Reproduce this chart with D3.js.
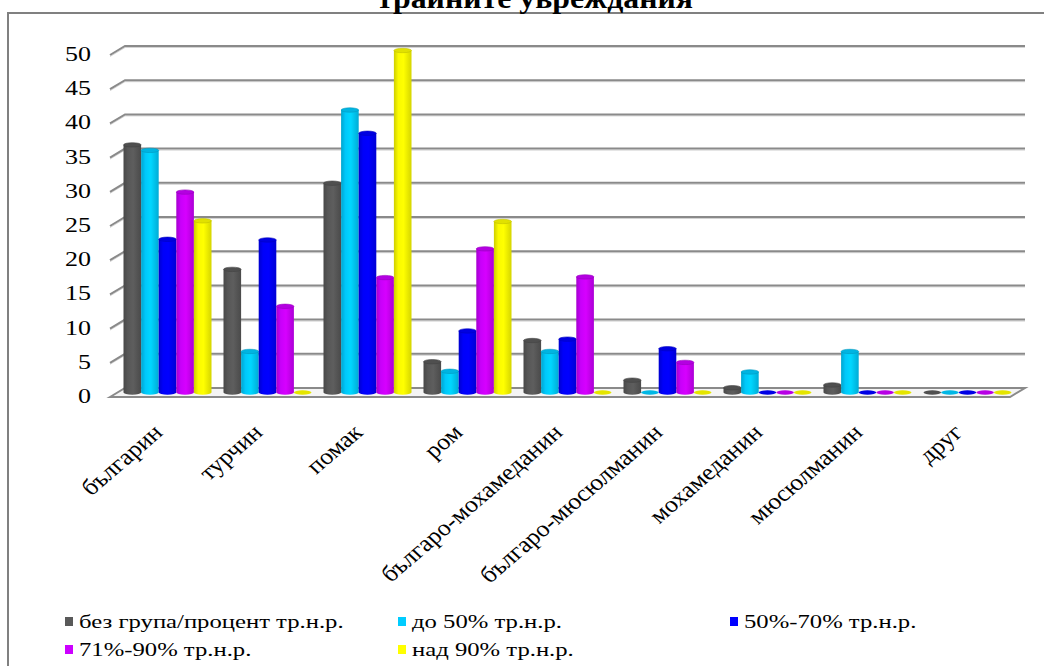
<!DOCTYPE html>
<html>
<head>
<meta charset="utf-8">
<script src="https://cdn.jsdelivr.net/npm/d3@7/dist/d3.min.js"></script>
<style>
  html, body { margin: 0; padding: 0; background: #fff; }
  svg { display: block; }
</style>
</head>
<body>
<svg id="chart" width="1044" height="666"></svg>
<script>
// Ethnic groups on the category axis
const categories = ["българин", "турчин", "помак", "ром", "българо-мохамеданин",
  "българо-мюсюлманин", "мохамеданин", "мюсюлманин", "друг"];

// One array per disability group, in category order (percent)
const noGroup   = [36.2, 18.0, 30.6, 4.5, 7.6, 1.8, 0.7, 1.1, 0];
const upTo50    = [35.4, 6.0, 41.3, 3.1, 6.0, 0, 3.0, 6.0, 0];
const from50to70 = [22.4, 22.3, 37.9, 9.0, 7.8, 6.4, 0, 0, 0];
const from71to90 = [29.3, 12.6, 16.8, 21.0, 16.9, 4.4, 0, 0, 0];
const over90    = [25.1, 0, 50.0, 25.0, 0, 0, 0, 0, 0];

const seriesNames = ["без група/процент тр.н.р.", "до 50% тр.н.р.", "50%-70% тр.н.р.",
  "71%-90% тр.н.р.", "над 90% тр.н.р."];
const seriesValues = [noGroup, upTo50, from50to70, from71to90, over90];
const seriesColors = ["#595959", "#00ccff", "#0000ff", "#cc00ff", "#ffff00"];

const yTicks = [0, 5, 10, 15, 20, 25, 30, 35, 40, 45, 50];
const titleText = "трайните увреждания";

const FONT = "'Liberation Serif', 'Times New Roman', 'DejaVu Serif', serif";

const svg = d3.select("#chart").attr("font-family", FONT);
const defs = svg.append("defs");

// oblique 3-D projection: depth offset of the back wall
const DX = 15, DY = -9;
const STRETCH = 1.3;

const x = d3.scaleBand().domain(categories).range([110, 1010])
  .paddingInner(0.12).paddingOuter(0.06);
const xs = d3.scaleBand().domain(d3.range(seriesNames.length)).range([0, x.bandwidth()]);
const y = d3.scaleLinear().domain([0, 50]).range([397, 55]);

// chart frame
svg.append("rect").attr("x", 8).attr("y", 13).attr("width", 1100).attr("height", 700)
  .attr("fill", "none").attr("stroke", "#808080").attr("stroke-width", 2);

// title (last line)
svg.append("text")
  .attr("transform", `translate(535,8) scale(1.06,1)`)
  .attr("font-family", FONT)
  .attr("text-anchor", "middle").attr("font-size", 30).attr("font-weight", "bold")
  .text(titleText);

// floor
const x0 = x.range()[0], x1 = x.range()[1];
svg.append("path")
  .attr("d", `M${x0},${y(0)} L${x0 + DX},${y(0) + DY} L${x1 + DX},${y(0) + DY} L${x1},${y(0)} Z`)
  .attr("fill", "#f4f4f4").attr("stroke", "#8a8a8a").attr("stroke-width", 2);

// back-wall gridlines with side-wall tick
const grid = svg.append("g");
yTicks.filter(t => t > 0).forEach(t => {
  const yy = y(t);
  grid.append("path")
    .attr("d", `M${x0},${yy + 1.5} L${x0 + DX},${yy + DY + 1.5} L${x1 + DX},${yy + DY + 1.5}`)
    .attr("fill", "none").attr("stroke", "#d4d4d4").attr("stroke-width", 1);
  grid.append("path")
    .attr("d", `M${x0},${yy} L${x0 + DX},${yy + DY} L${x1 + DX},${yy + DY}`)
    .attr("fill", "none").attr("stroke", "#8a8a8a").attr("stroke-width", 2);
});

// value axis labels
svg.append("g").selectAll("text").data(yTicks).join("text")
  .attr("transform", t => `translate(91,${y(t) + 6}) scale(${STRETCH},1)`)
  .attr("font-family", FONT)
  .attr("text-anchor", "end").attr("font-size", 20)
  .text(d => d);

// gradients for cylinder shading
seriesColors.forEach((c, i) => {
  const g = defs.append("linearGradient").attr("id", "cyl" + i)
    .attr("x1", "0%").attr("x2", "100%").attr("y1", "0%").attr("y2", "0%");
  const base = d3.color(c);
  g.append("stop").attr("offset", "0%").attr("stop-color", base.darker(0.6));
  g.append("stop").attr("offset", "25%").attr("stop-color", base.darker(0.05));
  g.append("stop").attr("offset", "55%").attr("stop-color", base.brighter(0.15));
  g.append("stop").attr("offset", "100%").attr("stop-color", base.darker(0.5));
});

// cylinders
const RY = 2.2;
const bars = svg.append("g");
categories.forEach((cat, ci) => {
  seriesValues.forEach((vals, si) => {
    const v = vals[ci];
    const bx = x(cat) + DX / 2 + xs(si);
    const w = xs.bandwidth();
    const cx = bx + w / 2;
    const yb = y(0) + DY / 2;
    const yt = y(v) + DY / 2;
    const col = d3.color(seriesColors[si]);
    const g = bars.append("g");
    if (v > 0) {
      g.append("path")
        .attr("d", `M${bx},${yt} L${bx},${yb} A${w / 2},${RY} 0 0 0 ${bx + w},${yb} L${bx + w},${yt} Z`)
        .attr("fill", `url(#cyl${si})`);
      g.append("ellipse").attr("cx", cx).attr("cy", yt).attr("rx", w / 2).attr("ry", RY)
        .attr("fill", col.darker(0.35)).attr("stroke", col.darker(0.8)).attr("stroke-width", 0.6);
    } else {
      g.append("ellipse").attr("cx", cx).attr("cy", yb).attr("rx", w / 2).attr("ry", RY)
        .attr("fill", col.darker(0.3));
    }
  });
});

// category labels
svg.append("g").selectAll("text").data(categories).join("text")
  .attr("transform", d => `translate(${x(d) + x.bandwidth() / 2 + 4},${y(0) + 37}) scale(1.12,1) rotate(-44)`)
  .attr("font-family", FONT)
  .attr("text-anchor", "end").attr("font-size", 23)
  .text(d => d);

// legend
const legendCols = [65, 398, 730];
const legendRows = [622, 650];
const legend = svg.append("g");
seriesNames.forEach((name, i) => {
  const lx = legendCols[i % 3], ly = legendRows[Math.floor(i / 3)];
  legend.append("rect").attr("x", lx).attr("y", ly - 5).attr("width", 8).attr("height", 9)
    .attr("fill", seriesColors[i]);
  legend.append("text")
    .attr("transform", `translate(${lx + 14},${ly + 6}) scale(${STRETCH},1)`)
    .attr("font-family", FONT)
    .attr("font-size", 19).text(name);
});
</script>
</body>
</html>
